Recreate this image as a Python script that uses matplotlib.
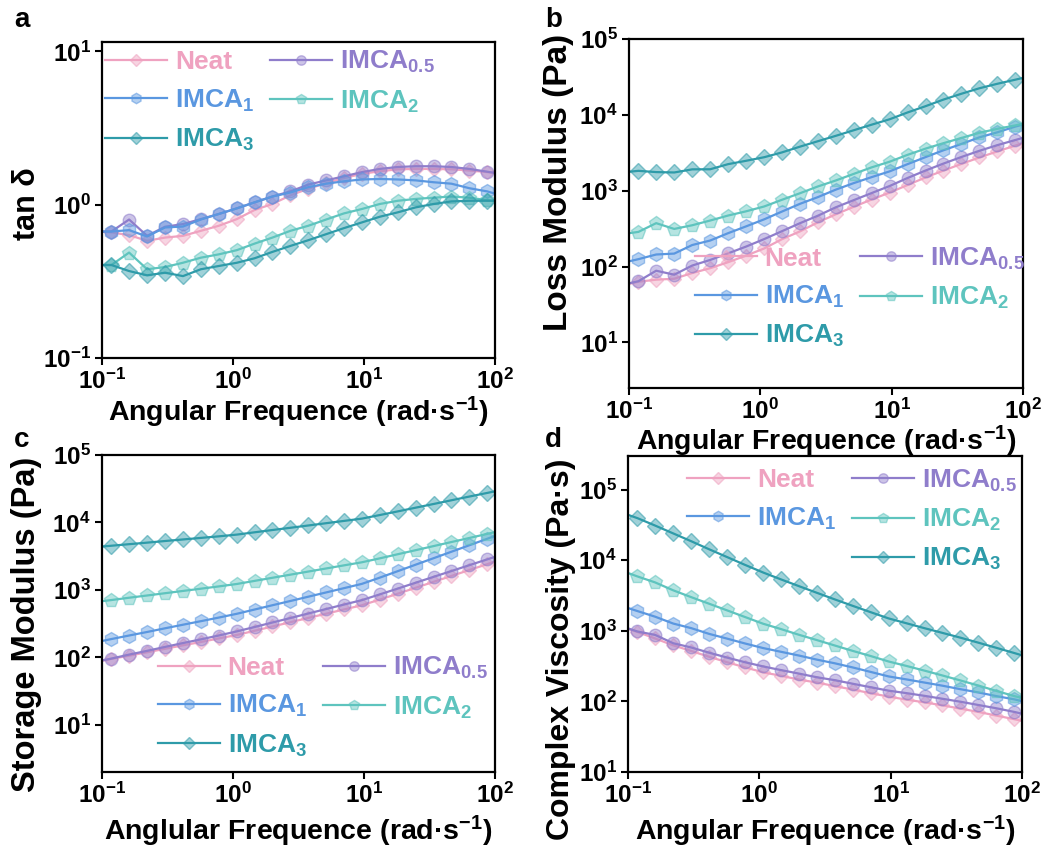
import matplotlib
matplotlib.use('Agg')
import matplotlib.pyplot as plt
from matplotlib.lines import Line2D
from matplotlib.colors import to_rgba
from matplotlib.ticker import LogLocator, NullLocator

plt.rcParams['font.family'] = ['Liberation Sans', 'DejaVu Sans']
plt.rcParams['font.weight'] = 'bold'
plt.rcParams['axes.labelweight'] = 'bold'
plt.rcParams['mathtext.fontset'] = 'custom'
plt.rcParams['mathtext.rm'] = 'Liberation Sans:bold'
plt.rcParams['mathtext.default'] = 'regular'

# angular frequency (rad/s); first and last points are where the lines meet the frame
freq = [0.1, 0.118, 0.161, 0.221, 0.303, 0.415, 0.568, 0.778, 1.07, 1.46, 2.0, 2.74,
        3.75, 5.14, 7.03, 9.64, 13.2, 18.1, 24.8, 34.0, 46.5, 63.7, 87.3, 100]

names = ['Neat', 'IMCA$_{0.5}$', 'IMCA$_1$', 'IMCA$_2$', 'IMCA$_3$']
colors = ['#EFA2C0', '#8F7DCB', '#5A97E0', '#5EC4BE', '#2E9BA9']
markers = ['D', 'o', 'h', 'p', 'D']
msizes = [7.5, 9, 10, 10, 8]

# a : tan delta
tan_neat = [0.665, 0.659, 0.633, 0.581, 0.61, 0.626, 0.675, 0.728, 0.805, 0.923, 1.01, 1.15,
            1.27, 1.38, 1.49, 1.59, 1.65, 1.70, 1.71, 1.71, 1.70, 1.67, 1.63, 1.61]
tan_05 = [0.668, 0.668, 0.80, 0.626, 0.718, 0.747, 0.805, 0.869, 0.946, 1.035, 1.13, 1.22,
          1.35, 1.44, 1.53, 1.63, 1.71, 1.76, 1.78, 1.78, 1.76, 1.71, 1.64, 1.61]
tan_1 = [0.668, 0.668, 0.682, 0.62, 0.71, 0.72, 0.80, 0.869, 0.946, 1.035, 1.13, 1.20,
         1.30, 1.37, 1.42, 1.46, 1.47, 1.46, 1.44, 1.40, 1.37, 1.28, 1.22, 1.18]
tan_2 = [0.404, 0.404, 0.487, 0.379, 0.392, 0.418, 0.451, 0.474, 0.505, 0.557, 0.61, 0.675,
         0.728, 0.80, 0.877, 0.937, 1.01, 1.06, 1.09, 1.11, 1.13, 1.11, 1.07, 1.06]
tan_3 = [0.404, 0.404, 0.369, 0.346, 0.36, 0.342, 0.379, 0.398, 0.418, 0.447, 0.492, 0.538,
         0.586, 0.642, 0.703, 0.766, 0.834, 0.891, 0.96, 1.01, 1.05, 1.06, 1.06, 1.06]

# b : loss modulus (Pa)
loss_neat = [59, 63, 67, 69, 82, 95, 114, 139, 173, 229, 290, 382,
             488, 613, 764, 943, 1186, 1494, 1840, 2254, 2739, 3293, 3928, 4234]
loss_05 = [60, 64, 88, 78, 103, 122, 149, 183, 230, 292, 372, 467,
           603, 750, 929, 1151, 1469, 1843, 2277, 2782, 3353, 3981, 4654, 4975]
loss_1 = [117, 125, 144, 148, 192, 220, 275, 338, 419, 530, 670, 822,
          1031, 1258, 1508, 1796, 2236, 2770, 3410, 4136, 5046, 5880, 6999, 7446]
loss_2 = [275, 286, 373, 313, 350, 404, 470, 534, 619, 758, 924, 1136,
          1362, 1664, 2028, 2408, 2967, 3584, 4231, 4958, 5796, 6536, 7250, 7626]
loss_3 = [1776, 1826, 1758, 1738, 1911, 1915, 2237, 2477, 2762, 3194, 3802, 4485,
          5283, 6260, 7412, 8734, 10744, 12998, 15896, 18981, 22397, 25663, 29061, 30711]

# c : storage modulus (Pa)
stor_neat = [89, 95, 106, 119, 134, 151, 169, 191, 215, 248, 287, 332,
             384, 444, 513, 593, 719, 879, 1076, 1318, 1611, 1972, 2410, 2630]
stor_05 = [90, 96, 110, 125, 143, 163, 185, 211, 243, 282, 329, 383,
           447, 521, 607, 706, 859, 1047, 1279, 1563, 1905, 2328, 2838, 3090]
stor_1 = [175, 187, 211, 238, 270, 305, 344, 389, 443, 512, 593, 685,
          793, 918, 1062, 1230, 1521, 1897, 2368, 2954, 3683, 4594, 5737, 6310]
stor_2 = [681, 708, 766, 827, 894, 966, 1043, 1127, 1225, 1361, 1514, 1683,
          1871, 2080, 2312, 2570, 2938, 3381, 3882, 4467, 5129, 5888, 6776, 7194]
stor_3 = [4395, 4519, 4764, 5023, 5309, 5598, 5902, 6223, 6607, 7145, 7727, 8337,
          9016, 9750, 10544, 11402, 12882, 14588, 16558, 18793, 21330, 24210, 27416, 28973]

# d : complex viscosity (Pa.s)
visc_neat = [1069, 964, 779, 623, 518, 429, 359, 304, 258, 231, 204, 185,
             165, 147, 131, 117, 106, 97, 88, 79, 71, 63, 56, 53]
visc_05 = [1083, 979, 875, 667, 581, 490, 418, 359, 313, 278, 248, 220,
           200, 178, 159, 142, 131, 120, 109, 99, 89, 80, 71, 67]
visc_1 = [2105, 1906, 1586, 1268, 1092, 905, 776, 662, 570, 505, 447, 391,
          347, 303, 262, 226, 205, 185, 167, 149, 134, 119, 107, 101]
visc_2 = [6600, 5900, 4850, 3750, 3000, 2420, 1950, 1570, 1260, 1060, 880, 740,
          620, 520, 440, 368, 318, 273, 233, 198, 168, 141, 119, 112]
visc_3 = [44000, 39500, 31000, 24000, 18600, 14300, 11100, 8600, 6700, 5360, 4300, 3460,
          2790, 2260, 1840, 1500, 1280, 1090, 935, 800, 680, 575, 485, 450]


def plotPanel(fig, rect, series, ylim, ylabel, ylabSize, ylabPos, xlabel, xlabY,
              legAnchor, legOrder):
    ax = fig.add_axes(rect)
    ax.set_xscale('log')
    ax.set_yscale('log')
    mk = list(range(1, len(freq) - 1))
    handles = []
    for i, vals in enumerate(series):
        h, = ax.plot(freq, vals, color=colors[i], lw=1.6, marker=markers[i],
                     markersize=msizes[i], markevery=mk,
                     mfc=to_rgba(colors[i], 0.45), mec=to_rgba(colors[i], 0.55),
                     mew=1.0, label=names[i])
        handles.append(h)
    ax.set_xlim(0.1, 100)
    ax.set_ylim(*ylim)
    ax.xaxis.set_major_locator(LogLocator(base=10, numticks=10))
    ax.yaxis.set_major_locator(LogLocator(base=10, numticks=10))
    ax.xaxis.set_minor_locator(NullLocator())
    ax.yaxis.set_minor_locator(NullLocator())
    ax.tick_params(which='major', direction='out', length=5, width=1.5, labelsize=17.5, pad=3)
    for s in ax.spines.values():
        s.set_linewidth(1.6)
    ax.set_xlabel(xlabel, fontsize=20.5)
    ax.set_ylabel(ylabel, fontsize=ylabSize)
    ax.xaxis.set_label_coords(0.5, xlabY)
    ax.yaxis.set_label_coords(*ylabPos)

    blank = Line2D([], [], linestyle='none', marker=None)
    hs, labs, cols = [], [], []
    for k in legOrder:
        if k is None:
            hs.append(blank)
            labs.append(' ')
            cols.append('white')
        else:
            hs.append(handles[k])
            labs.append(names[k])
            cols.append(colors[k])
    leg = ax.legend(hs, labs, ncol=2, loc='upper left', bbox_to_anchor=legAnchor,
                    frameon=False, fontsize=19, borderpad=0, borderaxespad=0,
                    handlelength=2.35, handletextpad=0.3, columnspacing=0.6,
                    labelspacing=0.5, markerscale=0.75)
    for t, c in zip(leg.get_texts(), cols):
        t.set_color(c)
    return ax


fig = plt.figure(figsize=(10.46, 8.5), dpi=100)

W, H = 1046.0, 850.0
ra = [102 / W, 1 - 358 / H, 393 / W, 316 / H]
rb = [629 / W, 1 - 388 / H, 394 / W, 349 / H]
rc = [102 / W, 1 - 772 / H, 393 / W, 317 / H]
rd = [628 / W, 1 - 772 / H, 394 / W, 316 / H]

xl = 'Angular Frequence (rad·s$^{-1}$)'

plotPanel(fig, ra, [tan_neat, tan_05, tan_1, tan_2, tan_3], (0.1, 11.5),
          'tan δ', 22, (-0.153, 0.49), xl, -0.115,
          (0.008, 0.977), [0, 2, 4, 1, 3])
plotPanel(fig, rb, [loss_neat, loss_05, loss_1, loss_2, loss_3], (2.5, 1e5),
          'Loss Modulus (Pa)', 24, (-0.14, 0.59), xl, -0.102,
          (0.167, 0.408), [0, 2, 4, 1, 3])
plotPanel(fig, rc, [stor_neat, stor_05, stor_1, stor_2, stor_3], (2, 1e5),
          'Storage Modulus (Pa)', 23.5, (-0.153, 0.465), 'Anglular Frequence (rad·s$^{-1}$)', -0.133,
          (0.142, 0.369), [0, 2, 4, 1, 3])
plotPanel(fig, rd, [visc_neat, visc_05, visc_1, visc_2, visc_3], (10, 3e5),
          'Complex Viscosity (Pa·s)', 23, (-0.132, 0.39), xl, -0.133,
          (0.15, 0.964), [0, 2, None, 1, 3, 4])

for lab, x, y in [('a', 14, 20), ('b', 545, 20), ('c', 14, 440), ('d', 545, 440)]:
    fig.text(x / W, 1 - y / H, lab, fontsize=20, fontweight='bold', va='center', ha='left')

plt.savefig('out.png', dpi=100)
plt.close()
